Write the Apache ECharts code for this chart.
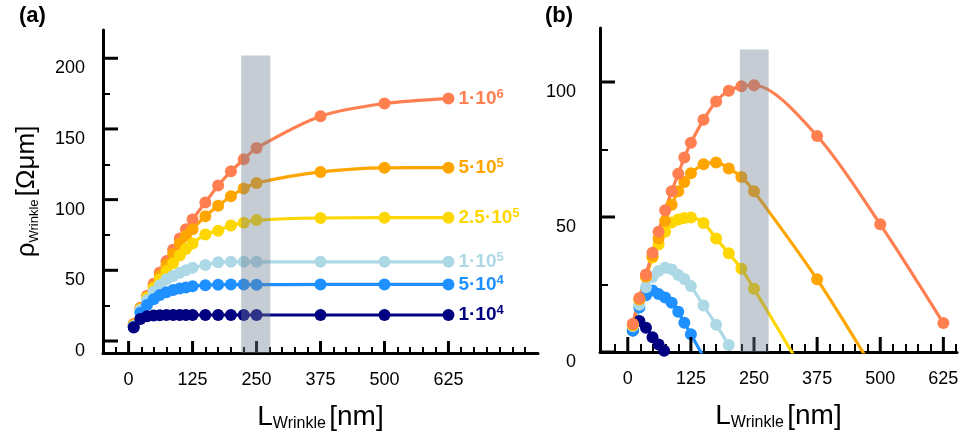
<!DOCTYPE html>
<html><head><meta charset="utf-8">
<script src="https://cdn.jsdelivr.net/npm/echarts@6/dist/echarts.min.js"></script>
<style>html,body{margin:0;padding:0;background:#fff}#c{width:967px;height:432px}</style>
</head><body><div id="c"></div>
<script>
// ---- data ----
const xA = [10, 23, 36, 49, 61, 74, 87, 100, 112, 125, 150, 175, 200, 225, 250, 375, 500, 625];
// panel (a)
const a1e6  = [12, 23.5, 32, 40.5, 48.5, 56.5, 64.5, 72.5, 79, 86, 98, 110, 120, 128.5, 136.5, 159, 168, 171.5];
const a5e5  = [11.5, 23, 31, 38.5, 46, 54, 61.5, 69, 74.5, 79, 88.3, 95.6, 102.4, 107.8, 111.8, 119.6, 122.5, 122.6];
const a25e5 = [11, 22.5, 30.5, 37.5, 43.5, 49.5, 55, 60.5, 65, 69, 75.3, 78, 81.7, 83.6, 85.5, 87, 87.2, 87.2];
const a1e5  = [10.5, 22, 29, 34.8, 39.5, 43.6, 46, 48.2, 50, 51.8, 53.7, 55.7, 56, 56, 56, 56, 56, 56];
const a5e4  = [10, 20, 25.5, 29.5, 32.5, 34.4, 36, 37.2, 37.9, 38.8, 39.5, 39.7, 40, 39.9, 39.8, 40, 40, 40];
const a1e4  = [9.5, 15.5, 17.5, 18, 18.2, 18.3, 18.4, 18.4, 18.4, 18.4, 18.4, 18.4, 18.4, 18.4, 18.4, 18.4, 18.4, 18.4];
// panel (b)
const b1e6  = [10.5, 20, 28.7, 36.8, 44.5, 52.5, 59.5, 66, 72, 77.5, 86, 92.8, 96.8, 98.4, 98.8, 80, 47.3, 10.7];
const b5e5  = [10, 19.5, 28, 35.5, 42, 48.5, 54.5, 59.5, 63, 66.2, 69.5, 70.2, 68, 64.8, 59.5, 26.9];
const b25e5 = [10, 19.5, 28, 35, 39.8, 44.5, 48, 49.1, 49.6, 49.8, 47.8, 42, 36.6, 30.8, 23.4];
const b1e5  = [9.5, 17.5, 24, 27.8, 30, 31.2, 30.6, 28.5, 27, 24.4, 17.2, 10.1, 2.6];
const b5e4  = [8, 16.5, 21, 22.8, 21.5, 20.2, 18.2, 14.9, 10.8, 6.6];
const xB1e4 = [10, 23, 36, 49, 61, 72];
const b1e4  = [8, 11.5, 9, 5.5, 2.8, 0.5];
// fitted-curve continuation below zero (no markers)
const b5e5Tail  = [480, -4.5];
const b25e5Tail = [340, -4.8];
const b5e4Tail  = [155, -3.5];
// labels / ticks
const seriesNames = ['1·10^6', '5·10^5', '2.5·10^5', '1·10^5', '5·10^4', '1·10^4'];
const colors = ['#FF7F50', '#FFA500', '#FFD700', '#ADD8E6', '#1E90FF', '#000080'];
const xMajorTicks = [0, 125, 250, 375, 500, 625];
const xMinorTicksA = [-25,25,50,75,100,150,175,200,225,275,300,325,350,400,425,450,475,525,550,575,600,650,675,700,725,750,775];
const xMinorTicksB = [-25,25,50,75,100,150,175,200,225,275,300,325,350,400,425,450,475,525,550,575,600,650];
const yMajorA = [0, 50, 100, 150, 200];
const yMinorA = [25, 75, 125, 175];
const yMajorB = [0, 50, 100];
const yMinorB = [25, 75];
const bandA = [[220, 277, 202, -8.5]];
const bandB = [[222, 279, 112, 0]];

// ---- chart ----
const FONT = 'Liberation Sans, Arial, sans-serif';
const chart = echarts.init(document.getElementById('c'));

const axisNameRich = {
  m: {fontSize: 28, lineHeight: 30, color: '#000', fontFamily: FONT},
  s: {fontSize: 16, lineHeight: 12, verticalAlign: 'bottom', color: '#000', fontFamily: FONT}
};
const yNameRich = {
  m: {fontSize: 26, lineHeight: 28, color: '#000', fontFamily: FONT},
  s: {fontSize: 13, lineHeight: 10, verticalAlign: 'bottom', color: '#000', fontFamily: FONT}
};

function mainX(gi, min, max) {
  return {
    type: 'value', gridIndex: gi, min, max, position: 'bottom',
    axisLine: {show: true, onZero: false, lineStyle: {color: '#000', width: 3}},
    axisTick: {show: false},
    axisLabel: {show: true, customValues: xMajorTicks.slice(), fontSize: 18, color: '#000', margin: 18, fontFamily: FONT},
    splitLine: {show: false},
    name: '{m|L}{s|Wrinkle} {m|[nm]}', nameLocation: 'middle', nameGap: 49,
    nameTextStyle: {rich: axisNameRich}
  };
}
function tickX(gi, min, max, ticks, len, w) {
  return {
    type: 'value', gridIndex: gi, min, max, position: 'bottom',
    axisLine: {show: false, onZero: false},
    axisTick: {show: true, inside: true, length: len, customValues: ticks.slice(), lineStyle: {color: '#000', width: w}},
    axisLabel: {show: false}, splitLine: {show: false}
  };
}
function mainY(gi, min, max, ticks, margin, extra) {
  return Object.assign({
    type: 'value', gridIndex: gi, min, max, position: 'left',
    axisLine: {show: true, onZero: false, lineStyle: {color: '#000', width: 3}},
    axisTick: {show: false},
    axisLabel: {show: true, customValues: ticks.slice(), fontSize: 18, color: '#000', margin, verticalAlign: 'top', lineHeight: 20, fontFamily: FONT},
    splitLine: {show: false}
  }, extra || {});
}
function tickY(gi, min, max, ticks, len, w) {
  return {
    type: 'value', gridIndex: gi, min, max, position: 'left',
    axisLine: {show: false, onZero: false},
    axisTick: {show: true, inside: true, length: len, customValues: ticks.slice(), lineStyle: {color: '#000', width: w}},
    axisLabel: {show: false}, splitLine: {show: false}
  };
}

function zip(xs, ys) { return ys.map((y, i) => [xs[i], y]); }
function labelText(name) {
  const p = name.split('^');
  return '{b|' + p[0] + '}{s|' + p[1] + '}';
}

const seriesA = [a1e6, a5e5, a25e5, a1e5, a5e4, a1e4].map((ys, i) => ({
  type: 'line', xAxisIndex: 0, yAxisIndex: 0, data: zip(xA, ys),
  smooth: 0.3, symbol: 'circle', symbolSize: 12,
  lineStyle: {color: colors[i], width: 3.2}, itemStyle: {color: colors[i]},
  endLabel: {
    show: true, distance: 10, formatter: () => labelText(seriesNames[i]),
    rich: {
      b: {fontSize: 19, fontWeight: 'bold', color: colors[i], lineHeight: 22, fontFamily: FONT},
      s: {fontSize: 13, fontWeight: 'bold', color: colors[i], lineHeight: 13, verticalAlign: 'top', fontFamily: FONT}
    }
  }
}));

function tailed(xs, ys, tail) {
  const d = zip(xs, ys);
  if (tail) d.push({value: tail, symbol: 'none'});
  return d;
}
const bData = [
  tailed(xB1e4, b1e4, null),
  tailed(xA, b5e4, b5e4Tail),
  tailed(xA, b1e5, null),
  tailed(xA, b25e5, b25e5Tail),
  tailed(xA, b5e5, b5e5Tail),
  tailed(xA, b1e6, null)
];
const bColors = [colors[5], colors[4], colors[3], colors[2], colors[1], colors[0]];
const seriesB = bData.map((d, i) => ({
  type: 'line', xAxisIndex: 2, yAxisIndex: 2, data: d,
  smooth: 0.3, symbol: 'circle', symbolSize: 12, clip: true,
  lineStyle: {color: bColors[i], width: 3.2}, itemStyle: {color: bColors[i]}
}));

function bandSeries(xi, yi, data) {
  return {
    type: 'custom', xAxisIndex: xi, yAxisIndex: yi, z: 10, silent: true, data,
    encode: {x: [0, 1], y: [2, 3]},
    renderItem: (params, api) => {
      const p0 = api.coord([api.value(0), api.value(2)]);
      const p1 = api.coord([api.value(1), api.value(3)]);
      return {type: 'rect', shape: {x: p0[0], y: p0[1], width: p1[0] - p0[0], height: p1[1] - p0[1]},
        style: {fill: 'rgba(112,128,144,0.4)'}};
    }
  };
}
// major ticks, placed through the axes' scales
function majorTickSeries(xi, yi, vals, dir, len, yRef) {
  return {
    type: 'custom', xAxisIndex: xi, yAxisIndex: yi, z: 6, silent: true,
    data: vals.map(v => [v]),
    encode: dir === 'x' ? {x: 0} : {y: 0},
    renderItem: (params, api) => {
      const cs = params.coordSys;
      const v = api.value(0);
      let shape;
      if (dir === 'x') {
        const px = api.coord([v, yRef])[0];
        const by = cs.y + cs.height;
        shape = {x1: px, y1: by, x2: px, y2: by - len};
      } else {
        const py = api.coord([yRef, v])[1];
        shape = {x1: cs.x, y1: py, x2: cs.x + len, y2: py};
      }
      return {type: 'line', shape, style: {stroke: '#000', lineWidth: 3}};
    }
  };
}

chart.setOption({
  animation: false,
  backgroundColor: '#fff',
  textStyle: {fontFamily: FONT},
  title: [
    {text: '(a)', left: 14, top: 0, textStyle: {fontSize: 22, fontWeight: 'bold', color: '#000', fontFamily: FONT}},
    {text: '(b)', left: 540, top: 0, textStyle: {fontSize: 22, fontWeight: 'bold', color: '#000', fontFamily: FONT}}
  ],
  grid: [
    {left: 103, top: 30, width: 435, height: 323, containLabel: false, outerBoundsMode: 'none'},
    {left: 600, top: 28, width: 357, height: 324, containLabel: false, outerBoundsMode: 'none'}
  ],
  xAxis: [
    mainX(0, -50, 800),
    tickX(0, -50, 800, xMinorTicksA, 6, 2),
    mainX(1, -55, 652),
    tickX(1, -55, 652, xMinorTicksB, 8, 2)
  ],
  yAxis: [
    mainY(0, -8.5, 220, yMajorA, 18, {
      name: '{m|ρ}{s|Wrinkle} {m|[Ωμm]}', nameLocation: 'middle', nameGap: 62, nameRotate: 90,
      nameTextStyle: {rich: yNameRich}
    }),
    tickY(0, -8.5, 220, yMinorA, 7, 2),
    mainY(1, 0, 120, yMajorB, 24),
    tickY(1, 0, 120, yMinorB, 8, 2)
  ],
  series: [
    ...seriesA, ...seriesB,
    bandSeries(0, 0, bandA), bandSeries(2, 2, bandB),
    majorTickSeries(0, 0, xMajorTicks, 'x', 12, 0),
    majorTickSeries(0, 0, yMajorA, 'y', 15, 0),
    majorTickSeries(2, 2, xMajorTicks, 'x', 15, 0),
    majorTickSeries(2, 2, yMajorB, 'y', 15, 0)
  ]
});
</script>
</body></html>
